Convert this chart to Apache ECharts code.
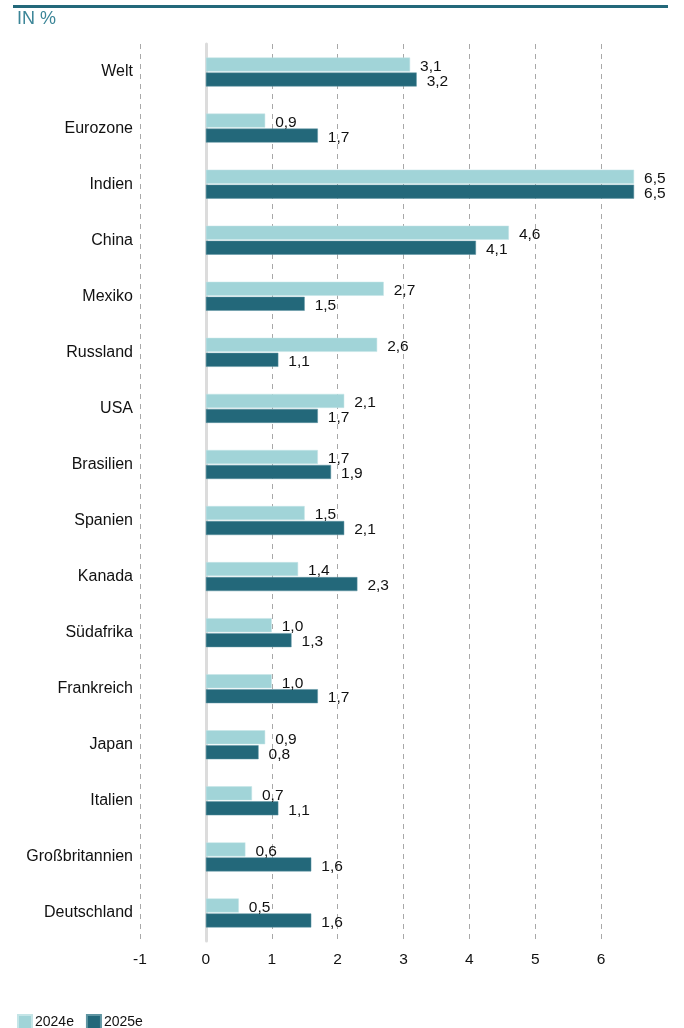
<!DOCTYPE html>
<html>
<head>
<meta charset="utf-8">
<script src="https://cdn.jsdelivr.net/npm/echarts@6/dist/echarts.min.js"></script>
<style>
  html, body { margin: 0; padding: 0; background: #fff; }
  #chart { width: 684px; height: 1028px; }
</style>
</head>
<body>
<div id="chart"></div>
<script>
// Wachstumsprognosen des realen BIP in %
const countries = ['Welt', 'Eurozone', 'Indien', 'China', 'Mexiko', 'Russland', 'USA', 'Brasilien',
  'Spanien', 'Kanada', 'Südafrika', 'Frankreich', 'Japan', 'Italien', 'Großbritannien', 'Deutschland'];
const values2024 = [3.1, 0.9, 6.5, 4.6, 2.7, 2.6, 2.1, 1.7, 1.5, 1.4, 1.0, 1.0, 0.9, 0.7, 0.6, 0.5];
const values2025 = [3.2, 1.7, 6.5, 4.1, 1.5, 1.1, 1.7, 1.9, 2.1, 2.3, 1.3, 1.7, 0.8, 1.1, 1.6, 1.6];
const seriesNames = ['2024e', '2025e'];
const axisTicks = [-1, 0, 1, 2, 3, 4, 5, 6];

const FONT = '"Liberation Sans", Arial, sans-serif';
const fmt = v => v.toFixed(1).replace('.', ',');

const chart = echarts.init(document.getElementById('chart'), null, { renderer: 'canvas' });

const labelCfg = {
  show: true,
  position: 'right',
  distance: 10,
  offset: [0, 2],
  color: '#111',
  fontFamily: FONT,
  fontSize: 15.5,
  formatter: p => fmt(p.value)
};

chart.setOption({
  animation: false,
  backgroundColor: '#fff',
  textStyle: { fontFamily: FONT },
  graphic: [
    { type: 'rect', shape: { x: 13, y: 5, width: 655, height: 3 }, style: { fill: '#23687a' } },
    { type: 'text', left: 17, top: 10, style: { text: 'IN %', fill: '#3b8597', font: '18px ' + FONT } }
  ],
  legend: {
    left: 17,
    top: 1014,
    padding: 0,
    itemWidth: 14,
    itemHeight: 14,
    itemGap: 12,
    icon: 'rect',
    textStyle: { fontFamily: FONT, fontSize: 14, color: '#111', padding: [0, 0, 0, -2] },
    data: seriesNames
  },
  grid: { left: 140, right: 17, top: 44, bottom: 87, containLabel: false },
  xAxis: {
    type: 'value',
    min: -1,
    max: 7,
    interval: 1,
    axisLine: { show: false },
    axisTick: { show: false },
    axisLabel: {
      margin: 11,
      color: '#111',
      fontFamily: FONT,
      fontSize: 15.5,
      formatter: v => (axisTicks.indexOf(v) >= 0 ? String(v) : '')
    },
    splitLine: {
      show: true,
      showMinLine: true,
      showMaxLine: false,
      lineStyle: { color: '#a8a8a8', type: [5, 5], width: 1 }
    }
  },
  yAxis: {
    type: 'category',
    inverse: true,
    data: countries,
    axisLine: { show: true, onZero: true, lineStyle: { color: '#dcdcdc', width: 3 } },
    axisTick: { show: false },
    axisLabel: { margin: 7, color: '#111', fontFamily: FONT, fontSize: 16 }
  },
  series: [
    {
      name: seriesNames[0],
      type: 'bar',
      data: values2024,
      barWidth: 14,
      barGap: '7%',
      itemStyle: { color: '#a1d4d8', borderColor: '#c4e5e7', borderWidth: 0.5 },
      label: labelCfg,
      z: 3
    },
    {
      name: seriesNames[1],
      type: 'bar',
      data: values2025,
      barWidth: 14,
      itemStyle: { color: '#23687a', borderColor: '#5f95a2', borderWidth: 0.5 },
      label: labelCfg,
      z: 3
    }
  ]
});
</script>
</body>
</html>
